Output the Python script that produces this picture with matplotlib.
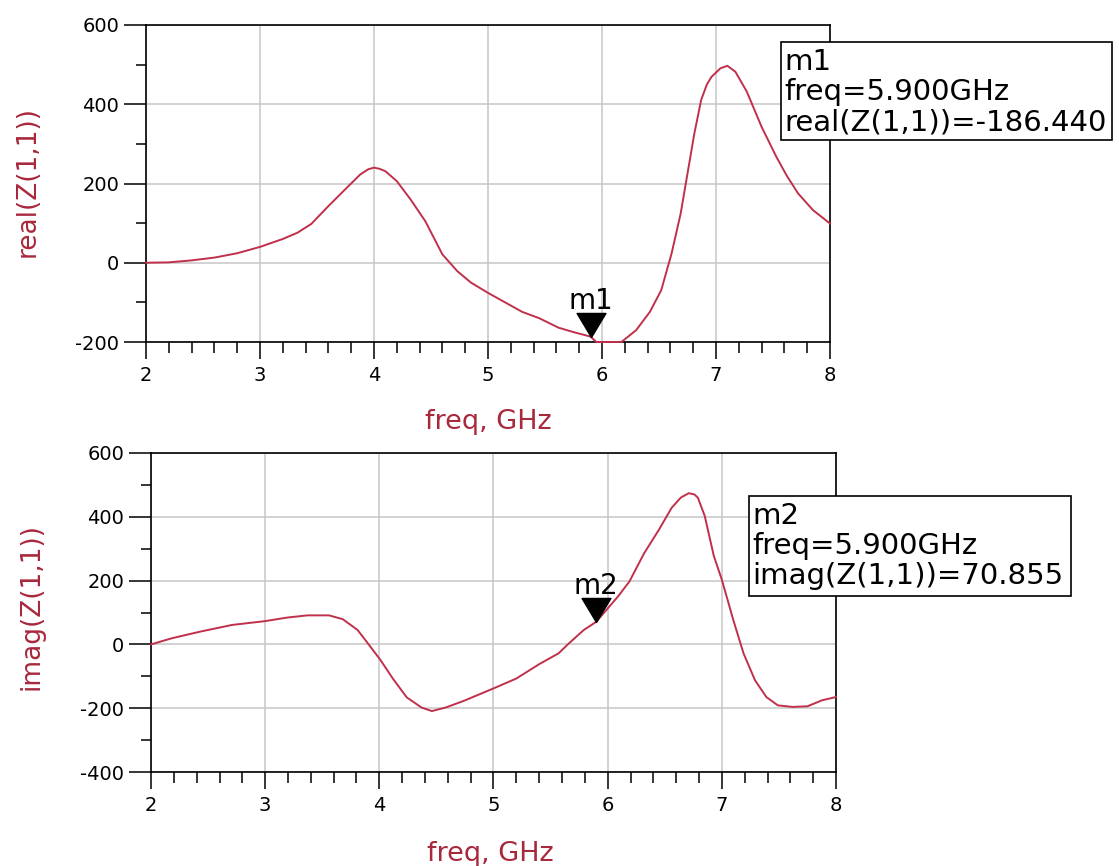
import matplotlib
matplotlib.use("Agg")
import matplotlib.pyplot as plt
from matplotlib.ticker import MultipleLocator, FixedLocator
from matplotlib.patches import Rectangle

# ---- data -------------------------------------------------------------
freq_re = [2.0, 2.2, 2.4, 2.6, 2.8, 3.0, 3.2, 3.33, 3.45, 3.6, 3.75, 3.88,
           3.95, 4.0, 4.05, 4.1, 4.2, 4.32, 4.45, 4.6, 4.73, 4.85, 5.0, 5.15,
           5.3, 5.45, 5.62, 5.75, 5.9, 5.95, 6.05, 6.17, 6.3, 6.42, 6.52,
           6.61, 6.69, 6.76, 6.81, 6.87, 6.92, 6.96, 7.04, 7.1, 7.17, 7.27,
           7.4, 7.53, 7.62, 7.72, 7.85, 8.0]
real_z11 = [0, 1, 6, 13, 24, 40, 60, 76, 98, 143, 186, 223,
            236, 240, 237, 231, 206, 160, 105, 21, -21, -50, -76, -100,
            -124, -140, -164, -175, -186.44, -200, -200, -200, -170, -124, -69,
            23, 124, 242, 326, 411, 450, 469, 491, 497, 482, 432,
            343, 267, 220, 175, 133, 99]

freq_im = [2.0, 2.18, 2.43, 2.71, 3.0, 3.19, 3.37, 3.56, 3.68, 3.81, 3.9,
           4.01, 4.12, 4.24, 4.37, 4.46, 4.58, 4.74, 5.0, 5.2, 5.4, 5.57,
           5.66, 5.79, 5.9, 6.09, 6.19, 6.32, 6.45, 6.56, 6.64, 6.71, 6.76,
           6.79, 6.85, 6.93, 7.0, 7.1, 7.19, 7.29, 7.39, 7.49, 7.62, 7.75,
           7.88, 8.0]
imag_z11 = [0, 19, 40, 61, 73, 84, 91, 91, 79, 45, 3,
            -49, -108, -166, -198, -209, -198, -177, -138, -107, -62, -28,
            3, 45, 70.855, 150, 197, 286, 360, 428, 460, 474, 470,
            460, 403, 277, 203, 77, -28, -112, -165, -191, -196, -194,
            -175, -165]

marker_names = ["m1", "m2"]
marker_freq = [5.9, 5.9]
marker_vals = [-186.440, 70.855]

x_ticks = [2, 3, 4, 5, 6, 7, 8]
y_ticks_re = [-200, 0, 200, 400, 600]
y_ticks_im = [-400, -200, 0, 200, 400, 600]

# ---- style ------------------------------------------------------------
W, H = 1119, 866
TRACE = "#c0304a"
LABEL = "#a8283c"
GRID = "#c6c6c6"

plt.rcParams["font.family"] = ["DejaVu Sans"]
plt.rcParams["axes.unicode_minus"] = False

fig = plt.figure(figsize=(W / 100, H / 100), dpi=100)
fig.patch.set_facecolor("white")


def frac_rect(left, top, right, bottom):
    return [left / W, 1 - bottom / H, (right - left) / W, (bottom - top) / H]


def style_axes(ax, yticks, ylim):
    ax.set_xlim(2, 8)
    ax.set_ylim(*ylim)
    ax.xaxis.set_major_locator(FixedLocator(x_ticks))
    ax.xaxis.set_minor_locator(MultipleLocator(0.2))
    ax.yaxis.set_major_locator(FixedLocator(yticks))
    ax.yaxis.set_minor_locator(MultipleLocator(100))
    ax.tick_params(axis="x", which="major", direction="out", length=12.2,
                   width=1.1, pad=5.0, labelsize=14, colors="black")
    ax.tick_params(axis="x", which="minor", direction="out", length=7.9,
                   width=1.1)
    ax.tick_params(axis="y", which="major", direction="out", length=15.8,
                   width=1.1, pad=3.6, labelsize=14)
    ax.tick_params(axis="y", which="minor", direction="out", length=7.0,
                   width=1.1)
    ax.grid(True, which="major", color=GRID, lw=1.1)
    ax.set_axisbelow(True)
    for s in ax.spines.values():
        s.set_linewidth(1.2)
        s.set_color("black")


tri = [(0, 0), (-0.6, 1), (0.6, 1), (0, 0)]


def marker(ax, name, f, v):
    ax.plot([f], [v], marker=tri, ms=34.6, color="black", ls="none",
            zorder=6, clip_on=False)
    ax.annotate(name, xy=(f, v), xytext=(0, 20), textcoords="offset points",
                ha="center", va="baseline", fontsize=20, zorder=7)


def readout(left, top, right, bottom, lines, baselines):
    fig.add_artist(Rectangle((left / W, 1 - bottom / H), (right - left) / W,
                             (bottom - top) / H, transform=fig.transFigure,
                             fc="white", ec="black", lw=1.2, zorder=10))
    for txt, b in zip(lines, baselines):
        fig.text((left + 3) / W, 1 - b / H, txt, fontsize=21,
                 ha="left", va="baseline", zorder=11)


# ---- real(Z(1,1)) -----------------------------------------------------
ax1 = fig.add_axes(frac_rect(146, 25, 830, 342))
style_axes(ax1, y_ticks_re, (-200, 600))
ax1.plot(freq_re, real_z11, color=TRACE, lw=1.4, zorder=3, clip_on=False)
marker(ax1, marker_names[0], marker_freq[0], marker_vals[0])
ax1.set_xlabel("freq, GHz", fontsize=19.5, color=LABEL)
ax1.xaxis.set_label_coords(0.5, (342 - 422) / 317)
ax1.xaxis.label.set_va("center")
ax1.set_ylabel("real(Z(1,1))", fontsize=19, color=LABEL)
ax1.yaxis.set_label_coords((28 - 146) / 684, 0.505)
ax1.yaxis.label.set_va("center")

# ---- imag(Z(1,1)) -----------------------------------------------------
ax2 = fig.add_axes(frac_rect(151, 453, 836, 772))
style_axes(ax2, y_ticks_im, (-400, 600))
ax2.plot(freq_im, imag_z11, color=TRACE, lw=1.4, zorder=3, clip_on=False)
marker(ax2, marker_names[1], marker_freq[1], marker_vals[1])
ax2.set_xlabel("freq, GHz", fontsize=19.5, color=LABEL)
ax2.xaxis.set_label_coords(0.495, (772 - 854) / 319)
ax2.xaxis.label.set_va("center")
ax2.set_ylabel("imag(Z(1,1))", fontsize=19, color=LABEL)
ax2.yaxis.set_label_coords((32 - 151) / 685, 0.52)
ax2.yaxis.label.set_va("center")

# ---- marker readouts --------------------------------------------------
readout(781, 42, 1112, 140,
        [marker_names[0], f"freq={marker_freq[0]:.3f}GHz",
         f"real(Z(1,1))={marker_vals[0]:.3f}"],
        [70, 100, 130])
readout(749, 496, 1071, 596,
        [marker_names[1], f"freq={marker_freq[1]:.3f}GHz",
         f"imag(Z(1,1))={marker_vals[1]:.3f}"],
        [524, 554, 584])

fig.savefig("out.png", dpi=100, facecolor="white")
